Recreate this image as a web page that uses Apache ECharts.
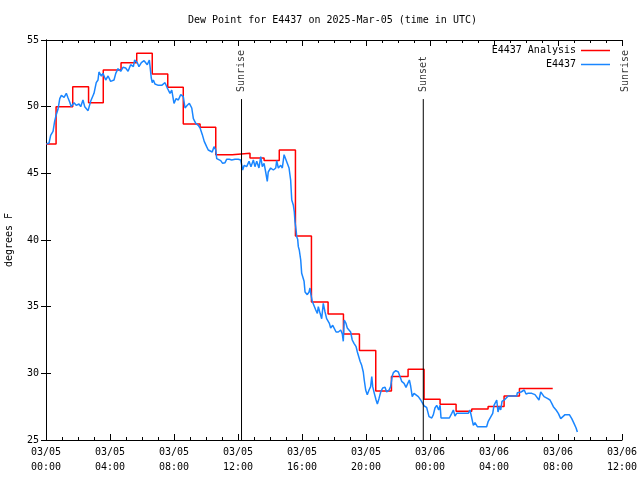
<!DOCTYPE html>
<html><head><meta charset="utf-8">
<script src="https://cdn.jsdelivr.net/npm/echarts@6/dist/echarts.min.js"></script>
<style>html,body{margin:0;padding:0;background:#fff}#c{width:640px;height:480px}</style>
</head><body><div id="c"></div>
<script>
// x axis: hours since 2025-03-05 00:00 UTC
const xTickLabels = ['03/05\n00:00','03/05\n04:00','03/05\n08:00','03/05\n12:00','03/05\n16:00','03/05\n20:00','03/06\n00:00','03/06\n04:00','03/06\n08:00','03/06\n12:00'];
const yTicks = [25, 30, 35, 40, 45, 50, 55];

// E4437 Analysis (hourly, stepped): start hour of each step and its value
const anaHours = [0.0,0.63,1.67,2.66,3.58,4.69,5.67,6.64,7.61,8.58,9.63,10.61,11.64,12.75,13.63,14.58,15.59,16.59,17.63,18.59,19.59,20.61,21.59,22.63,23.63,24.63,25.63,26.61,27.63,28.63,29.59,31.67];
const anaValues = [47.2,50.0,51.5,50.3,52.75,53.3,54.0,52.45,51.45,48.7,48.45,46.4,46.5,46.15,45.97,46.75,40.3,35.35,34.45,32.95,31.72,28.67,29.77,30.3,28.05,27.68,27.16,27.33,27.52,28.3,28.87,28.87];

// E4437 observations
const obsHours = [0.03,0.19,0.29,0.44,0.54,0.64,0.75,0.86,0.96,1.13,1.27,1.38,1.48,1.58,1.75,1.89,2.06,2.17,2.31,2.42,2.63,2.79,2.89,3.00,3.14,3.25,3.31,3.46,3.56,3.73,3.88,4.04,4.25,4.36,4.50,4.67,4.81,4.98,5.13,5.29,5.46,5.54,5.71,5.81,5.96,6.13,6.33,6.46,6.58,6.64,6.71,6.81,7.02,7.23,7.44,7.58,7.75,7.86,8.00,8.13,8.27,8.42,8.58,8.69,8.83,8.96,9.11,9.21,9.36,9.52,9.63,9.77,9.89,10.04,10.14,10.25,10.39,10.50,10.61,10.67,10.77,10.92,11.04,11.19,11.29,11.46,11.61,11.81,12.02,12.17,12.29,12.39,12.54,12.69,12.81,12.96,13.06,13.17,13.31,13.42,13.52,13.63,13.73,13.83,13.89,14.04,14.21,14.36,14.42,14.52,14.67,14.77,14.88,14.98,15.08,15.19,15.29,15.36,15.46,15.52,15.56,15.63,15.67,15.73,15.77,15.83,15.92,15.98,16.04,16.13,16.19,16.25,16.33,16.44,16.50,16.56,16.64,16.75,16.86,16.96,17.02,17.13,17.23,17.33,17.44,17.54,17.58,17.71,17.79,17.92,18.02,18.13,18.27,18.42,18.52,18.58,18.64,18.75,18.83,18.94,19.04,19.14,19.25,19.38,19.46,19.52,19.63,19.73,19.83,19.89,19.98,20.08,20.19,20.29,20.36,20.42,20.52,20.63,20.71,20.81,20.92,21.04,21.19,21.29,21.44,21.54,21.64,21.71,21.86,22.02,22.13,22.23,22.38,22.50,22.61,22.71,22.79,22.89,23.00,23.11,23.27,23.42,23.54,23.64,23.79,23.94,24.11,24.21,24.31,24.42,24.54,24.63,24.69,24.94,25.21,25.36,25.46,25.56,25.67,25.98,26.39,26.50,26.61,26.71,26.81,26.96,27.54,27.64,27.75,27.92,28.00,28.08,28.17,28.25,28.33,28.42,28.50,28.58,28.69,28.79,28.89,29.42,29.46,29.56,29.69,29.79,29.89,30.00,30.14,30.36,30.56,30.81,30.92,31.02,31.13,31.23,31.36,31.50,31.61,31.71,31.88,32.02,32.17,32.29,32.44,32.71,32.86,33.00,33.13,33.21];
const obsValues = [47.2,47.27,47.85,48.15,48.9,49.4,49.8,50.6,50.85,50.7,51.0,50.65,50.35,50.0,50.3,50.1,50.2,50.0,50.5,50.0,49.7,50.4,50.3,51.0,51.8,52.0,52.6,52.3,52.5,52.0,52.3,51.9,52.0,52.5,52.85,52.65,52.95,52.9,52.65,53.15,53.0,53.5,53.3,53.0,53.3,53.45,53.15,53.5,52.15,51.8,52.0,51.7,51.6,51.6,51.8,51.4,51.0,51.25,50.25,50.6,50.5,50.9,50.75,49.9,50.1,50.25,49.9,49.1,48.75,48.6,48.4,47.9,47.4,47.0,46.75,46.9,46.6,47.0,46.75,46.1,45.95,45.95,45.75,45.8,46.05,46.05,46.0,46.05,46.05,46.0,45.25,45.6,45.5,45.9,45.5,46.0,45.5,45.9,45.4,46.25,45.5,45.75,45.1,44.4,45.1,45.4,45.25,45.4,45.95,45.4,45.6,45.4,46.4,46.25,45.75,45.4,44.5,43.0,42.6,42.1,41.4,40.75,40.25,40.05,39.5,39.25,38.5,37.5,37.4,36.9,36.1,36.0,35.9,36.1,36.4,35.9,35.4,35.25,34.75,34.5,35.0,34.5,34.1,35.25,34.6,34.1,34.0,33.75,33.4,33.6,33.5,33.1,33.1,33.25,32.95,32.4,34.0,33.75,33.4,33.5,33.1,32.5,32.25,32.0,31.6,31.5,30.9,30.6,30.1,29.5,28.75,28.4,28.75,29.0,29.75,29.0,28.5,28.0,27.7,28.1,28.6,28.9,28.95,28.6,28.75,29.0,29.8,30.05,30.2,30.1,29.75,29.4,29.25,28.95,29.25,29.5,29.05,28.25,28.5,28.4,28.25,28.0,27.75,27.55,27.45,26.75,26.65,26.9,27.4,27.6,27.25,27.6,26.65,26.65,26.65,27.0,27.25,26.8,27.0,27.0,27.0,27.25,27.1,26.1,26.3,26.0,26.0,26.4,26.5,27.0,27.6,27.75,28.0,27.1,27.5,27.25,27.9,27.75,28.05,28.1,28.3,28.3,28.55,28.5,28.6,28.5,28.75,28.45,28.5,28.5,28.4,28.0,28.6,28.5,28.25,28.4,28.1,28.0,27.75,27.5,27.25,27.0,26.6,26.7,26.9,26.9,26.6,26.25,25.9,25.6];

// Sunrise / sunset events
const sunHours = [12.22, 23.58, 36.19];
const sunLabels = ['Sunrise', 'Sunset', 'Sunrise'];
const sunLineTop = 50.57;
const sunLabelBase = 51.1;

const FONT = 'DejaVu Sans Mono';
const chart = echarts.init(document.getElementById('c'), null, {renderer: 'canvas'});

const zip = (a, b) => a.map((v, i) => [v, b[i]]);

const axisCommon = {
  type: 'value', min: 0, max: 36, interval: 4,
  axisLine: {show: true, lineStyle: {color: '#000', width: 1}},
  axisTick: {show: true, inside: true, length: 6, lineStyle: {color: '#000'}},
  minorTick: {show: true, splitNumber: 4, length: 3, lineStyle: {color: '#000'}},
  splitLine: {show: false}
};
const yCommon = {
  type: 'value', min: 25, max: 55, interval: 5,
  axisLine: {show: true, lineStyle: {color: '#000', width: 1}},
  axisTick: {show: true, inside: true, length: 5, lineStyle: {color: '#000'}},
  splitLine: {show: false}
};

const series = [
  {
    name: 'E4437 Analysis', type: 'line', step: 'end', data: zip(anaHours, anaValues),
    showSymbol: false, symbol: 'none', color: '#ff0000',
    lineStyle: {color: '#ff0000', width: 1.5}, z: 3, animation: false
  },
  {
    name: 'E4437', type: 'line', data: zip(obsHours, obsValues),
    showSymbol: false, symbol: 'none', color: '#1a86ff',
    lineStyle: {color: '#1a86ff', width: 1.5}, z: 4, animation: false
  }
];
sunHours.forEach((h, i) => {
  series.push({
    name: 'sun' + i, type: 'line', data: [[h, sunLineTop], [h, 25]],
    symbol: 'none', clip: false, silent: true, animation: false,
    lineStyle: {color: '#000', width: 1}, z: 5
  });
});
series.push({
  name: 'sunlabels', type: 'scatter', symbolSize: 0, clip: false, silent: true, animation: false,
  data: sunHours.map((h, i) => [h, sunLabelBase, sunLabels[i]]),
  label: {
    show: true, position: 'inside', rotate: 90, align: 'left', verticalAlign: 'middle',
    formatter: p => p.data[2], color: '#000', fontFamily: FONT, fontSize: 10
  }, z: 5
});

chart.setOption({
  backgroundColor: '#fff',
  animation: false,
  textStyle: {fontFamily: FONT, fontSize: 10, color: '#000'},
  title: {
    text: 'Dew Point for E4437 on 2025-Mar-05 (time in UTC)', left: 188, top: 15, padding: 0,
    textStyle: {fontFamily: FONT, fontSize: 10, fontWeight: 'normal', color: '#000'}
  },
  legend: {
    data: ['E4437 Analysis', 'E4437'], orient: 'vertical', right: 30, top: 45, padding: 0,
    align: 'right', icon: 'rect', itemWidth: 29, itemHeight: 1.5, itemGap: 3,
    textStyle: {fontFamily: FONT, fontSize: 10, color: '#000', lineHeight: 11}
  },
  grid: {left: 46, right: 18, top: 40, bottom: 40, containLabel: false, outerBoundsMode: 'none'},
  xAxis: [
    Object.assign({}, axisCommon, {
      position: 'bottom',
      axisLabel: {
        show: true, margin: 5, lineHeight: 15, color: '#000', fontFamily: FONT, fontSize: 10,
        formatter: v => xTickLabels[Math.round(v / 4)]
      }
    }),
    Object.assign({}, axisCommon, {position: 'top', axisLabel: {show: false}})
  ],
  yAxis: [
    Object.assign({}, yCommon, {
      position: 'left', name: 'degrees F', nameLocation: 'middle', nameGap: 32,
      nameTextStyle: {fontFamily: FONT, fontSize: 10, color: '#000'},
      axisLabel: {show: true, margin: 7, color: '#000', fontFamily: FONT, fontSize: 10,
        formatter: v => String(yTicks[yTicks.indexOf(v)])}
    }),
    Object.assign({}, yCommon, {position: 'right', axisLabel: {show: false}})
  ],
  series: series
});
</script>
</body></html>
